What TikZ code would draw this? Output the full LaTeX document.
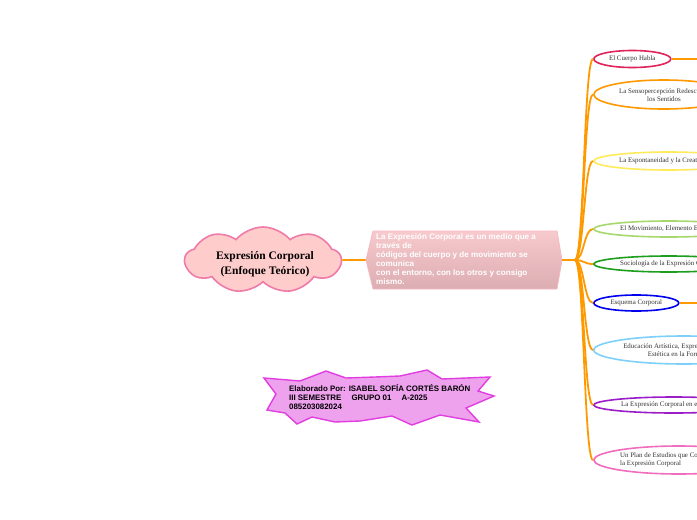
\documentclass[tikz,border=0pt]{standalone}
\usepackage{fontspec}
\setmainfont{Liberation Serif}
\setsansfont{Liberation Sans}
\usetikzlibrary{shapes.symbols,shapes.geometric}
\definecolor{orangeL}{HTML}{FF9900}
\definecolor{cloudfill}{HTML}{FFCCCC}
\definecolor{cloudline}{HTML}{F07AA8}
\definecolor{hexTop}{HTML}{F7CACD}
\definecolor{hexBot}{HTML}{DCADB2}
\definecolor{hexLine}{HTML}{F5B9C3}
\definecolor{starfill}{HTML}{EEA2EE}
\definecolor{starline}{HTML}{E03EE0}
\definecolor{cA}{HTML}{E0245A}
\definecolor{cB}{HTML}{FF9900}
\definecolor{cC}{HTML}{FFEB5A}
\definecolor{cD}{HTML}{A6D86E}
\definecolor{cE}{HTML}{1E9E1E}
\definecolor{cF}{HTML}{0000EE}
\definecolor{cG}{HTML}{7FD0F8}
\definecolor{cH}{HTML}{9B1DC8}
\definecolor{cI}{HTML}{F06DBE}
\definecolor{txt}{HTML}{333333}
\tikzset{
  conn/.style={draw=orangeL, line width=1.8pt},
  ell/.style={ellipse, draw=#1, line width=1.6pt, fill=white, inner sep=0pt, anchor=west},
  lab/.style={font=\fontsize{6.9}{8.5}\selectfont, text=txt, inner sep=0pt},
}
\begin{document}
\begin{tikzpicture}[x=1pt,y=-1pt]
\useasboundingbox (0,0) rectangle (697,520);
\clip (0,0) rectangle (697,520);
\fill[white] (0,0) rectangle (697,520);

% hub and anchors
\coordinate (hexW) at (366,260);
\coordinate (hexE) at (562,260);
\coordinate (hub) at (575,260);
\coordinate (endA) at (700,59);
\coordinate (endF) at (700,303);

% cloud
\node[cloud, cloud puffs=9, cloud puff arc=100, aspect=2.4, draw=cloudline, fill=cloudfill,
      line width=1.6pt, minimum width=156pt, minimum height=66pt, inner sep=0pt] (root) at (263,260) {};
\node[align=center, inner sep=0pt, font=\bfseries\fontsize{11.5}{14.5}\selectfont] (rootlabel) at (265,264)
      {Expresión Corporal\\(Enfoque Teórico)};

\draw[conn] (root.east) -- (hexW);

% hexagon description
\path[top color=hexTop, bottom color=hexBot, draw=hexLine, line width=0.8pt]
  (hexW) -- (373,231) -- (557,231) -- (hexE) -- (557,289) -- (373,289) -- cycle;
\node[anchor=north west, align=left, text=white, inner sep=0pt,
      font=\sffamily\bfseries\fontsize{8.1}{9}\selectfont] (desc) at (376,233)
  {La Expresión Corporal es un medio que a\\través de\\códigos del cuerpo y de movimiento se\\comunica\\con el entorno, con los otros y consigo\\mismo.};

\draw[conn] (hexE) -- (hub);

% children ellipses
\node[ell=cA, minimum width=77pt, minimum height=17pt] (nA) at (593,59) {};
\node[ell=cB, minimum width=140pt, minimum height=29pt] (nB) at (593,94.5) {};
\node[ell=cC, minimum width=150pt, minimum height=18pt] (nC) at (593,161) {};
\node[ell=cD, minimum width=150pt, minimum height=16pt] (nD) at (593,229) {};
\node[ell=cE, minimum width=150pt, minimum height=16pt] (nE) at (593,264) {};
\node[ell=cF, minimum width=85pt, minimum height=16pt] (nF) at (593,303) {};
\node[ell=cG, minimum width=180pt, minimum height=28pt] (nG) at (593,350) {};
\node[ell=cH, minimum width=160pt, minimum height=16pt] (nH) at (593,405) {};
\node[ell=cI, minimum width=170pt, minimum height=28pt] (nI) at (593,460) {};

% texts
\node[lab] at (nA.center) {El Cuerpo Habla};
\node[lab, align=center] at (664,95) {La Sensopercepción Redescubre\\los Sentidos};
\node[lab, anchor=west] at (619,161) {La Espontaneidad y la Creatividad};
\node[lab, anchor=west] at (620,229) {El Movimiento, Elemento Expresivo};
\node[lab, anchor=west] at (620,264) {Sociología de la Expresión Corporal};
\node[lab] at (nF.center) {Esquema Corporal};
\node[lab, align=center] at (682,350) {Educación Artística, Expresión Corporal y\\Estética en la Formación};
\node[lab, anchor=west] at (621,405) {La Expresión Corporal en el Aula};
\node[lab, align=left, anchor=west] at (620,460) {Un Plan de Estudios que Contemple\\la Expresión Corporal};

% connectors
\foreach \n in {nA,nB,nC,nD,nE,nF,nG,nH,nI}{
  \draw[conn] (hub) .. controls (584,260) and ([xshift=-9pt]\n.west) .. (\n.west);
}
\draw[conn] (nA.east) -- (endA);
\draw[conn] (nF.east) -- (endF);

% starburst
\path[fill=starfill, draw=starline, line width=1.4pt]
  (264,378) -- (300,381) -- (326,371) -- (346,378) -- (375,377) -- (400,376) -- (427,370)
  -- (442,379) -- (490,377) -- (478,391) -- (494,396) -- (466,408) -- (479,422) -- (440,415)
  -- (412,425) -- (392,416) -- (360,421) -- (335,422) -- (312,417) -- (297,424) -- (285,413)
  -- (267,410) -- (276,394) -- cycle;
\node[anchor=north west, align=left, inner sep=0pt,
      font=\sffamily\bfseries\fontsize{7.9}{9}\selectfont] (credit) at (289,384)
  {Elaborado Por: ISABEL SOFÍA CORTÉS BARÓN\\III SEMESTRE\quad\ GRUPO 01\quad\ A-2025\\085203082024};
\end{tikzpicture}
\end{document}
